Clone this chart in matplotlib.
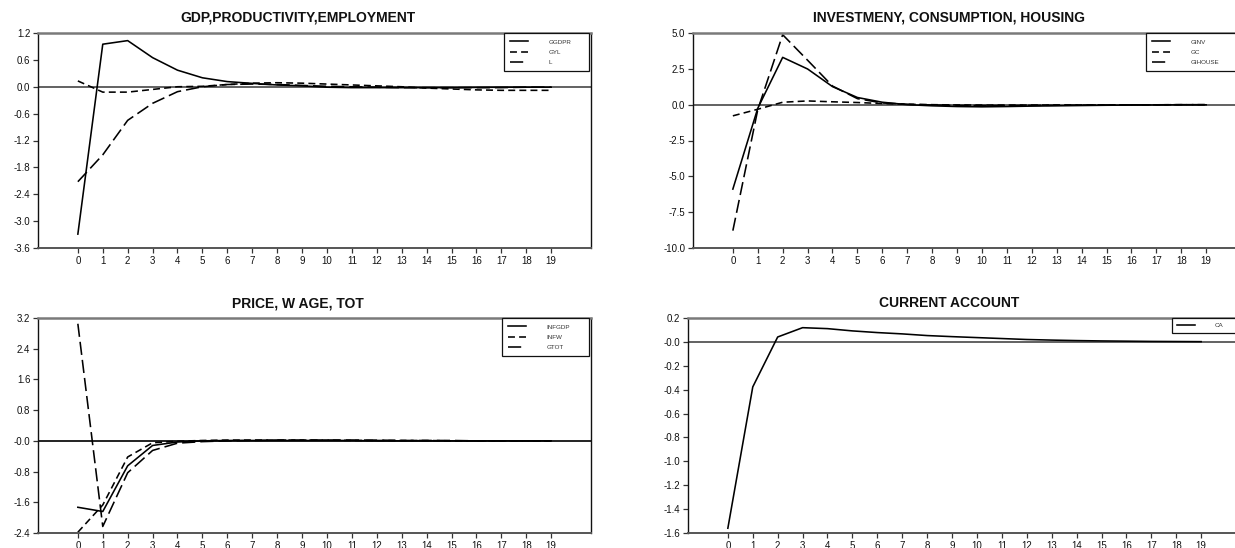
import matplotlib
matplotlib.use("Agg")
import matplotlib.pyplot as plt

plt.rcParams['font.family'] = ['Liberation Sans', 'DejaVu Sans']
plt.rcParams['lines.scale_dashes'] = False

# ---------------- data ----------------
periods = list(range(20))

GGDPR = [-3.29, 0.95, 1.03, 0.65, 0.37, 0.20, 0.115, 0.075, 0.04, 0.02,
         -0.01, -0.02, -0.02, -0.02, -0.02, -0.02, -0.015, -0.01, -0.01, -0.01]
GYL = [0.13, -0.12, -0.12, -0.06, 0.0, 0.01, 0.05, 0.08, 0.09, 0.08,
       0.06, 0.04, 0.02, 0.0, -0.03, -0.05, -0.07, -0.08, -0.08, -0.08]
L = [-2.12, -1.52, -0.75, -0.37, -0.11, 0.0, 0.05, 0.06, 0.05, 0.03,
     0.01, 0.0, -0.01, -0.02, -0.02, -0.02, -0.02, -0.02, -0.01, -0.01]

GINV = [-5.89, -0.25, 3.30, 2.49, 1.26, 0.50, 0.17, 0.0, -0.08, -0.13,
        -0.15, -0.13, -0.10, -0.08, -0.06, -0.04, -0.03, -0.02, -0.01, -0.01]
GC = [-0.78, -0.32, 0.17, 0.26, 0.20, 0.15, 0.08, 0.03, 0.0, -0.02,
      -0.03, -0.03, -0.03, -0.02, -0.02, -0.01, -0.01, -0.01, 0.0, 0.0]
GIHOUSE = [-8.79, -0.35, 4.88, 3.10, 1.30, 0.42, 0.12, 0.03, -0.02, -0.05,
           -0.06, -0.06, -0.05, -0.04, -0.03, -0.02, -0.01, -0.01, 0.0, 0.0]

INFGDP = [-1.73, -1.84, -0.65, -0.12, -0.03, 0.0, 0.01, 0.01, 0.01, 0.01,
          0.01, 0.01, 0.0, 0.0, 0.0, 0.0, 0.0, 0.0, 0.0, 0.0]
INFW = [-2.38, -1.67, -0.42, -0.05, -0.01, 0.01, 0.02, 0.02, 0.02, 0.02,
        0.02, 0.01, 0.01, 0.01, 0.01, 0.0, 0.0, 0.0, 0.0, 0.0]
GTOT = [3.05, -2.23, -0.83, -0.25, -0.06, -0.02, 0.0, 0.01, 0.02, 0.02,
        0.02, 0.02, 0.02, 0.01, 0.01, 0.01, 0.0, 0.0, 0.0, 0.0]

CA = [-1.56, -0.377, 0.041, 0.119, 0.111, 0.092, 0.078, 0.067, 0.053, 0.044,
      0.036, 0.028, 0.02, 0.015, 0.011, 0.008, 0.006, 0.004, 0.003, 0.002]

titles = ["GDP,PRODUCTIVITY,EMPLOYMENT", "INVESTMENY, CONSUMPTION, HOUSING",
          "PRICE, W AGE, TOT", "CURRENT ACCOUNT"]

yticks1 = [1.2, 0.6, 0.0, -0.6, -1.2, -1.8, -2.4, -3.0, -3.6]
ylabels1 = ["1.2", "0.6", "0.0", "-0.6", "-1.2", "-1.8", "-2.4", "-3.0", "-3.6"]
yticks2 = [5.0, 2.5, 0.0, -2.5, -5.0, -7.5, -10.0]
ylabels2 = ["5.0", "2.5", "0.0", "-2.5", "-5.0", "-7.5", "-10.0"]
yticks3 = [3.2, 2.4, 1.6, 0.8, 0.0, -0.8, -1.6, -2.4]
ylabels3 = ["3.2", "2.4", "1.6", "0.8", "-0.0", "-0.8", "-1.6", "-2.4"]
yticks4 = [0.2, 0.0, -0.2, -0.4, -0.6, -0.8, -1.0, -1.2, -1.4, -1.6]
ylabels4 = ["0.2", "-0.0", "-0.2", "-0.4", "-0.6", "-0.8", "-1.0", "-1.2", "-1.4", "-1.6"]

# ---------------- styling ----------------
W, H = 1235, 548
fig = plt.figure(figsize=(W / 100, H / 100), dpi=100)

SHORT = (0, (5.0, 3.0))
LONG = (0, (9.5, 3.6))


def px_axes(left, top, right, bottom):
    return fig.add_axes([left / W, 1 - bottom / H, (right - left) / W, (bottom - top) / H])


def style_axes(ax, ylim, yticks, ylabels, zero_color):
    ax.set_xlim(-1.6, 20.6)
    ax.set_ylim(*ylim)
    ax.set_xticks(periods)
    ax.set_xticklabels([str(p) for p in periods])
    ax.set_yticks(yticks)
    ax.set_yticklabels(ylabels)
    ax.tick_params(axis='both', direction='out', length=3.5, width=0.9,
                   labelsize=7, color='#333333', labelcolor='#111111', pad=2)
    ax.spines['top'].set_color('#7a7a7a')
    ax.spines['top'].set_linewidth(1.8)
    ax.spines['bottom'].set_color('#555555')
    ax.spines['bottom'].set_linewidth(1.4)
    ax.spines['left'].set_color('#111111')
    ax.spines['left'].set_linewidth(1.0)
    ax.spines['right'].set_color('#111111')
    ax.spines['right'].set_linewidth(1.0)
    ax.axhline(0, color=zero_color, lw=1.3, zorder=1)


def add_legend(ax, x0, w, borderpad=1.0):
    leg = ax.legend(loc='upper left', bbox_to_anchor=(x0, 0.0, w, 1.0), mode='expand',
                    borderaxespad=0.0, fontsize=4.5, handlelength=2.9, handletextpad=3.2,
                    labelspacing=0.75, borderpad=borderpad, fancybox=False, framealpha=1,
                    edgecolor='#111111')
    leg.get_frame().set_linewidth(0.9)
    for t in leg.get_texts():
        t.set_color('#333333')
    return leg


LW = 1.15

# Panel 1
ax1 = px_axes(38, 33, 591, 248)
ax1.plot(periods, GGDPR, color='black', lw=LW, label='GGDPR')
ax1.plot(periods, GYL, color='black', lw=LW, linestyle=SHORT, label='GYL')
ax1.plot(periods, L, color='black', lw=LW, linestyle=LONG, label='L')
style_axes(ax1, (-3.6, 1.2), yticks1, ylabels1, '#555555')
add_legend(ax1, 0.8427, 0.154)

# Panel 2
ax2 = px_axes(693, 33, 1246, 248)
ax2.plot(periods, GINV, color='black', lw=LW, label='GINV')
ax2.plot(periods, GC, color='black', lw=LW, linestyle=SHORT, label='GC')
ax2.plot(periods, GIHOUSE, color='black', lw=LW, linestyle=LONG, label='GIHOUSE')
style_axes(ax2, (-10.0, 5.0), yticks2, ylabels2, '#555555')
add_legend(ax2, 0.819, 0.177)

# Panel 3
ax3 = px_axes(38, 318, 591, 533)
ax3.plot(periods, INFGDP, color='black', lw=LW, label='INFGDP')
ax3.plot(periods, INFW, color='black', lw=LW, linestyle=SHORT, label='INFW')
ax3.plot(periods, GTOT, color='black', lw=LW, linestyle=LONG, label='GTOT')
style_axes(ax3, (-2.4, 3.2), yticks3, ylabels3, '#111111')
add_legend(ax3, 0.839, 0.157)

# Panel 4
ax4 = px_axes(688, 318, 1241, 533)
ax4.plot(periods, CA, color='black', lw=LW, label='CA')
style_axes(ax4, (-1.6, 0.2), yticks4, ylabels4, '#555555')
add_legend(ax4, 0.875, 0.121, borderpad=0.8)

# Titles
for (xc, yc), title in zip([(298, 17), (949, 17), (298, 303), (949, 303)], titles):
    fig.text(xc / W, 1 - yc / H, title, ha='center', va='center',
             fontsize=10, fontweight='bold', color='#111111')

fig.savefig("out.png", dpi=100)
